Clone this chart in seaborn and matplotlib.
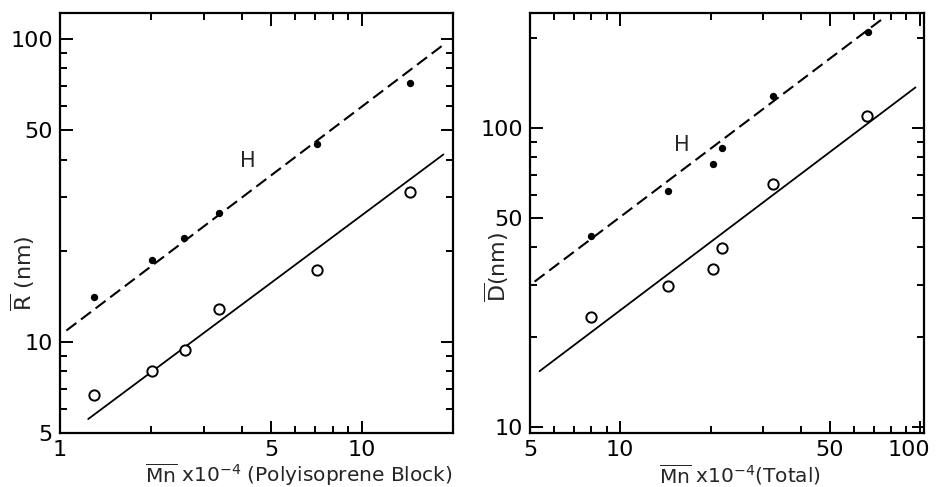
import matplotlib
matplotlib.use("Agg")
import matplotlib.pyplot as plt
import matplotlib.transforms as mtransforms
import seaborn as sns
import pandas as pd
from matplotlib.ticker import FixedLocator, FixedFormatter, NullFormatter

# ---------------- data ----------------
# Left panel: R (nm) vs Mn x 1e-4 (polyisoprene block)
left_mn_H = [1.30, 2.01, 2.58, 3.37, 7.08, 14.4]
left_r_H = [14.1, 18.7, 22.1, 26.6, 44.9, 71.7]
left_mn_open = [1.30, 2.01, 2.59, 3.37, 7.11, 14.4]
left_r_open = [6.68, 8.02, 9.39, 12.8, 17.3, 31.3]
left_fitH_x = [1.05, 18.6]
left_fitH_y = [10.9, 95.8]
left_fit_x = [1.24, 18.6]
left_fit_y = [5.56, 41.6]

# Right panel: D (nm) vs Mn x 1e-4 (total)
right_mn_H = [8.0, 14.4, 20.4, 21.9, 32.4, 67.0]
right_d_H = [43.7, 61.8, 75.8, 85.7, 128.0, 210.0]
right_mn_open = [8.0, 14.4, 20.4, 21.9, 32.2, 66.7]
right_d_open = [23.4, 29.7, 33.9, 39.7, 65.3, 110.2]
right_fitH_x = [5.18, 75.2]
right_fitH_y = [30.7, 233.0]
right_fit_x = [5.38, 96.5]
right_fit_y = [15.4, 137.0]

left_xticks = [1, 5, 10]
left_xlabels = ["1", "5", "10"]
left_yticks = [5, 10, 50, 100]
left_ylabels = ["5", "10", "50", "100"]
right_xticks = [5, 10, 50, 100]
right_xlabels = ["5", "10", "50", "100"]
right_yticks = [10, 50, 100]
right_ylabels = ["10", "50", "100"]

# ---------------- style ----------------
sns.set_style("ticks")
plt.rcParams["font.family"] = ["DejaVu Sans"]
plt.rcParams["mathtext.fontset"] = "dejavusans"

fig = plt.figure(figsize=(9.37, 4.87), dpi=100)
axL = fig.add_axes([0.064, 0.1109, 0.4194, 0.8624])
axR = fig.add_axes([0.5656, 0.1109, 0.4205, 0.8624])

dash = (6, 2.8)


def draw(ax, xH, yH, xo, yo, fxH, fyH, fx, fy):
    ax.set_xscale("log")
    ax.set_yscale("log")
    sns.lineplot(x=fxH, y=fyH, ax=ax, color="black", linewidth=1.5,
                 zorder=2)
    ax.lines[-1].set_dashes(dash)
    sns.lineplot(x=fx, y=fy, ax=ax, color="black", linewidth=1.3, zorder=2)
    sns.scatterplot(x=xH, y=yH, ax=ax, color="black", s=28, linewidth=0,
                    zorder=3)
    sns.scatterplot(x=xo, y=yo, ax=ax, color="white", edgecolor="black",
                    s=55, linewidth=1.4, zorder=3)


draw(axL, left_mn_H, left_r_H, left_mn_open, left_r_open,
     left_fitH_x, left_fitH_y, left_fit_x, left_fit_y)
draw(axR, right_mn_H, right_d_H, right_mn_open, right_d_open,
     right_fitH_x, right_fitH_y, right_fit_x, right_fit_y)

axL.set_xlim(1, 20)
axL.set_ylim(5, 122)
axR.set_xlim(5, 103)
axR.set_ylim(9.57, 243)


def ticks(ax, xt, xl, yt, yl, xminor, yminor):
    ax.xaxis.set_major_locator(FixedLocator(xt))
    ax.xaxis.set_major_formatter(FixedFormatter(xl))
    ax.yaxis.set_major_locator(FixedLocator(yt))
    ax.yaxis.set_major_formatter(FixedFormatter(yl))
    ax.xaxis.set_minor_locator(FixedLocator(xminor))
    ax.yaxis.set_minor_locator(FixedLocator(yminor))
    ax.xaxis.set_minor_formatter(NullFormatter())
    ax.yaxis.set_minor_formatter(NullFormatter())
    ax.tick_params(which="both", direction="in", top=True, right=True,
                   width=1.4, colors="black", labelsize=16)
    ax.tick_params(which="major", length=9)
    ax.tick_params(which="minor", length=5)
    ax.tick_params(axis="x", which="major", pad=5)
    ax.tick_params(axis="y", which="major", pad=5)
    for s in ax.spines.values():
        s.set_linewidth(1.6)
        s.set_color("black")


ticks(axL, left_xticks, left_xlabels, left_yticks, left_ylabels,
      [2, 3, 4, 6, 7, 8, 9], [6, 7, 8, 9, 20, 30, 40, 60, 70, 80, 90])
ticks(axR, right_xticks, right_xlabels, right_yticks, right_ylabels,
      [6, 7, 8, 9, 20, 30, 40, 60, 70, 80, 90],
      [20, 30, 40, 60, 70, 80, 90, 200])

# the last "100" label sits slightly left of its tick, as in the reference
last = axR.get_xticklabels()[-1]
last.set_transform(last.get_transform() +
                   mtransforms.ScaledTranslation(-0.11, 0, fig.dpi_scale_trans))

axL.set_xlabel(r"$\overline{\mathrm{Mn}}$ x10$^{-4}$ (Polyisoprene Block)",
               fontsize=14.5, ha="right", va="center")
axL.xaxis.set_label_coords(1.0, -0.098)
axL.set_ylabel(r"$\overline{\mathrm{R}}$ (nm)", fontsize=16, va="center")
axL.yaxis.set_label_coords(-0.094, 0.381)

axR.set_xlabel(r"$\overline{\mathrm{Mn}}$ x10$^{-4}$(Total)",
               fontsize=14.5, va="center")
axR.xaxis.set_label_coords(0.533, -0.098)
axR.set_ylabel(r"$\overline{\mathrm{D}}$(nm)", fontsize=16, va="center")
axR.yaxis.set_label_coords(-0.084, 0.395)

axL.text(4.19, 39.5, "H", fontsize=15, ha="center", va="center")
axR.text(16.0, 87.9, "H", fontsize=15, ha="center", va="center")

fig.savefig("out.png", dpi=100)
